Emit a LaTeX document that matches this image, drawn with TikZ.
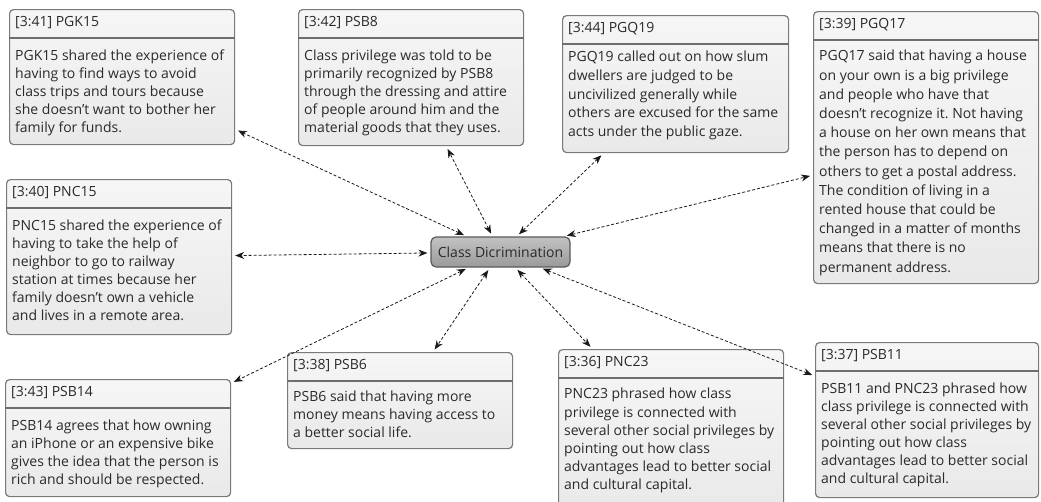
\documentclass[tikz,border=0pt]{standalone}
\usepackage{fontspec}
\setmainfont{Open Sans}
\usetikzlibrary{arrows.meta,calc,shadings}
\frenchspacing

\definecolor{cardtop}{HTML}{F6F6F6}
\definecolor{cardbot}{HTML}{E9E9E9}
\definecolor{cardedge}{HTML}{7A7A7A}
\definecolor{rulegray}{HTML}{6E6E6E}
\definecolor{inktext}{HTML}{2A2A2A}
\definecolor{hubtop}{HTML}{C2C2C2}
\definecolor{hubbot}{HTML}{9A9A9A}
\definecolor{hubedge}{HTML}{5A5A5A}

\tikzset{
  card/.style={draw=cardedge, line width=1.2pt, rounded corners=4pt,
    top color=cardtop, bottom color=cardbot, inner sep=0pt},
  cardhead/.style={font=\fontsize{14}{16}\selectfont, text=inktext,
    inner sep=0pt, anchor=west},
  cardbody/.style={text=inktext, inner sep=0pt, align=left,
    anchor=north west},
  hrule/.style={draw=rulegray, line width=1.8pt},
  hub/.style={draw=hubedge, line width=1.2pt, rounded corners=5pt,
    top color=hubtop, bottom color=hubbot, minimum width=139pt,
    minimum height=30pt, inner sep=0pt,
    font=\fontsize{14}{16}\selectfont, text=inktext},
  conn/.style={densely dashed, line width=0.8pt, black!90,
    {Stealth[length=9pt,width=7pt]}-{Stealth[length=9pt,width=7pt]},
    shorten <=3pt, shorten >=3pt},
}

% \card{name}{x}{y}{width}{height}{header}{body}{body offset}{line spacing}
\newcommand\card[9]{%
  \node[card, anchor=north west, minimum width=#4pt, minimum height=#5pt] (#1) at (#2,#3) {};
  \node[cardhead] (#1-head) at ($(#1.north west)+(6,14)$) {#6};
  \draw[hrule] ($(#1.north west)+(0,29)$) -- ($(#1.north east)+(0,29)$);
  \node[cardbody, font=\fontsize{14}{#9}\selectfont] (#1-body)
    at ($(#1.north west)+(6,#8)$) {#7};
}

\begin{document}
\begin{tikzpicture}[x=1pt, y=-1pt]
  \useasboundingbox (0,0) rectangle (1041,501);

  \card{pgk15}{9}{9}{225}{135}{[3:41] PGK15}{%
    PGK15 shared the experience of\\
    having to find ways to avoid\\
    class trips and tours because\\
    she doesn't want to bother her\\
    family for funds.}{41}{17.9}

  \card{psb8}{298}{9}{225}{136}{[3:42] PSB8}{%
    Class privilege was told to be\\
    primarily recognized by PSB8\\
    through the dressing and attire\\
    of people around him and the\\
    material goods that they uses.}{41}{17.9}

  \card{pgq19}{562}{15}{226}{137}{[3:44] PGQ19}{%
    PGQ19 called out on how slum\\
    dwellers are judged to be\\
    uncivilized generally while\\
    others are excused for the same\\
    acts under the public gaze.}{36}{18.7}

  \card{pgq17}{813}{11}{225}{272}{[3:39] PGQ17}{%
    PGQ17 said that having a house\\
    on your own is a big privilege\\
    and people who have that\\
    doesn't recognize it. Not having\\
    a house on her own means that\\
    the person has to depend on\\
    others to get a postal address.\\
    The condition of living in a\\
    rented house that could be\\
    changed in a matter of months\\
    means that there is no\\
    permanent address.}{39}{19.2}

  \card{pnc15}{6}{179}{225}{155}{[3:40] PNC15}{%
    PNC15 shared the experience of\\
    having to take the help of\\
    neighbor to go to railway\\
    station at times because her\\
    family doesn't own a vehicle\\
    and lives in a remote area.}{41}{17.9}

  \card{psb14}{5}{379}{225}{117}{[3:43] PSB14}{%
    PSB14 agrees that how owning\\
    an iPhone or an expensive bike\\
    gives the idea that the person is\\
    rich and should be respected.}{41}{17.9}

  \card{psb6}{287}{352}{225}{96}{[3:38] PSB6}{%
    PSB6 said that having more\\
    money means having access to\\
    a better social life.}{39}{17.9}

  \card{pnc23}{558}{349}{225}{165}{[3:36] PNC23}{%
    PNC23 phrased how class\\
    privilege is connected with\\
    several other social privileges by\\
    pointing out how class\\
    advantages lead to better social\\
    and cultural capital.}{39}{18.2}

  \card{psb11}{815}{342}{223}{155}{[3:37] PSB11}{%
    PSB11 and PNC23 phrased how\\
    class privilege is connected with\\
    several other social privileges by\\
    pointing out how class\\
    advantages lead to better social\\
    and cultural capital.}{41}{17.9}

  % central theme
  \node[hub] (hub) at (500.5,252) {Class Dicrimination};

  % links from the theme to every quotation
  \foreach \q in {pgk15,psb8,pgq19,pgq17,pnc15,psb14,psb6,pnc23,psb11}
    \draw[conn] (hub) -- (\q);
\end{tikzpicture}
\end{document}
